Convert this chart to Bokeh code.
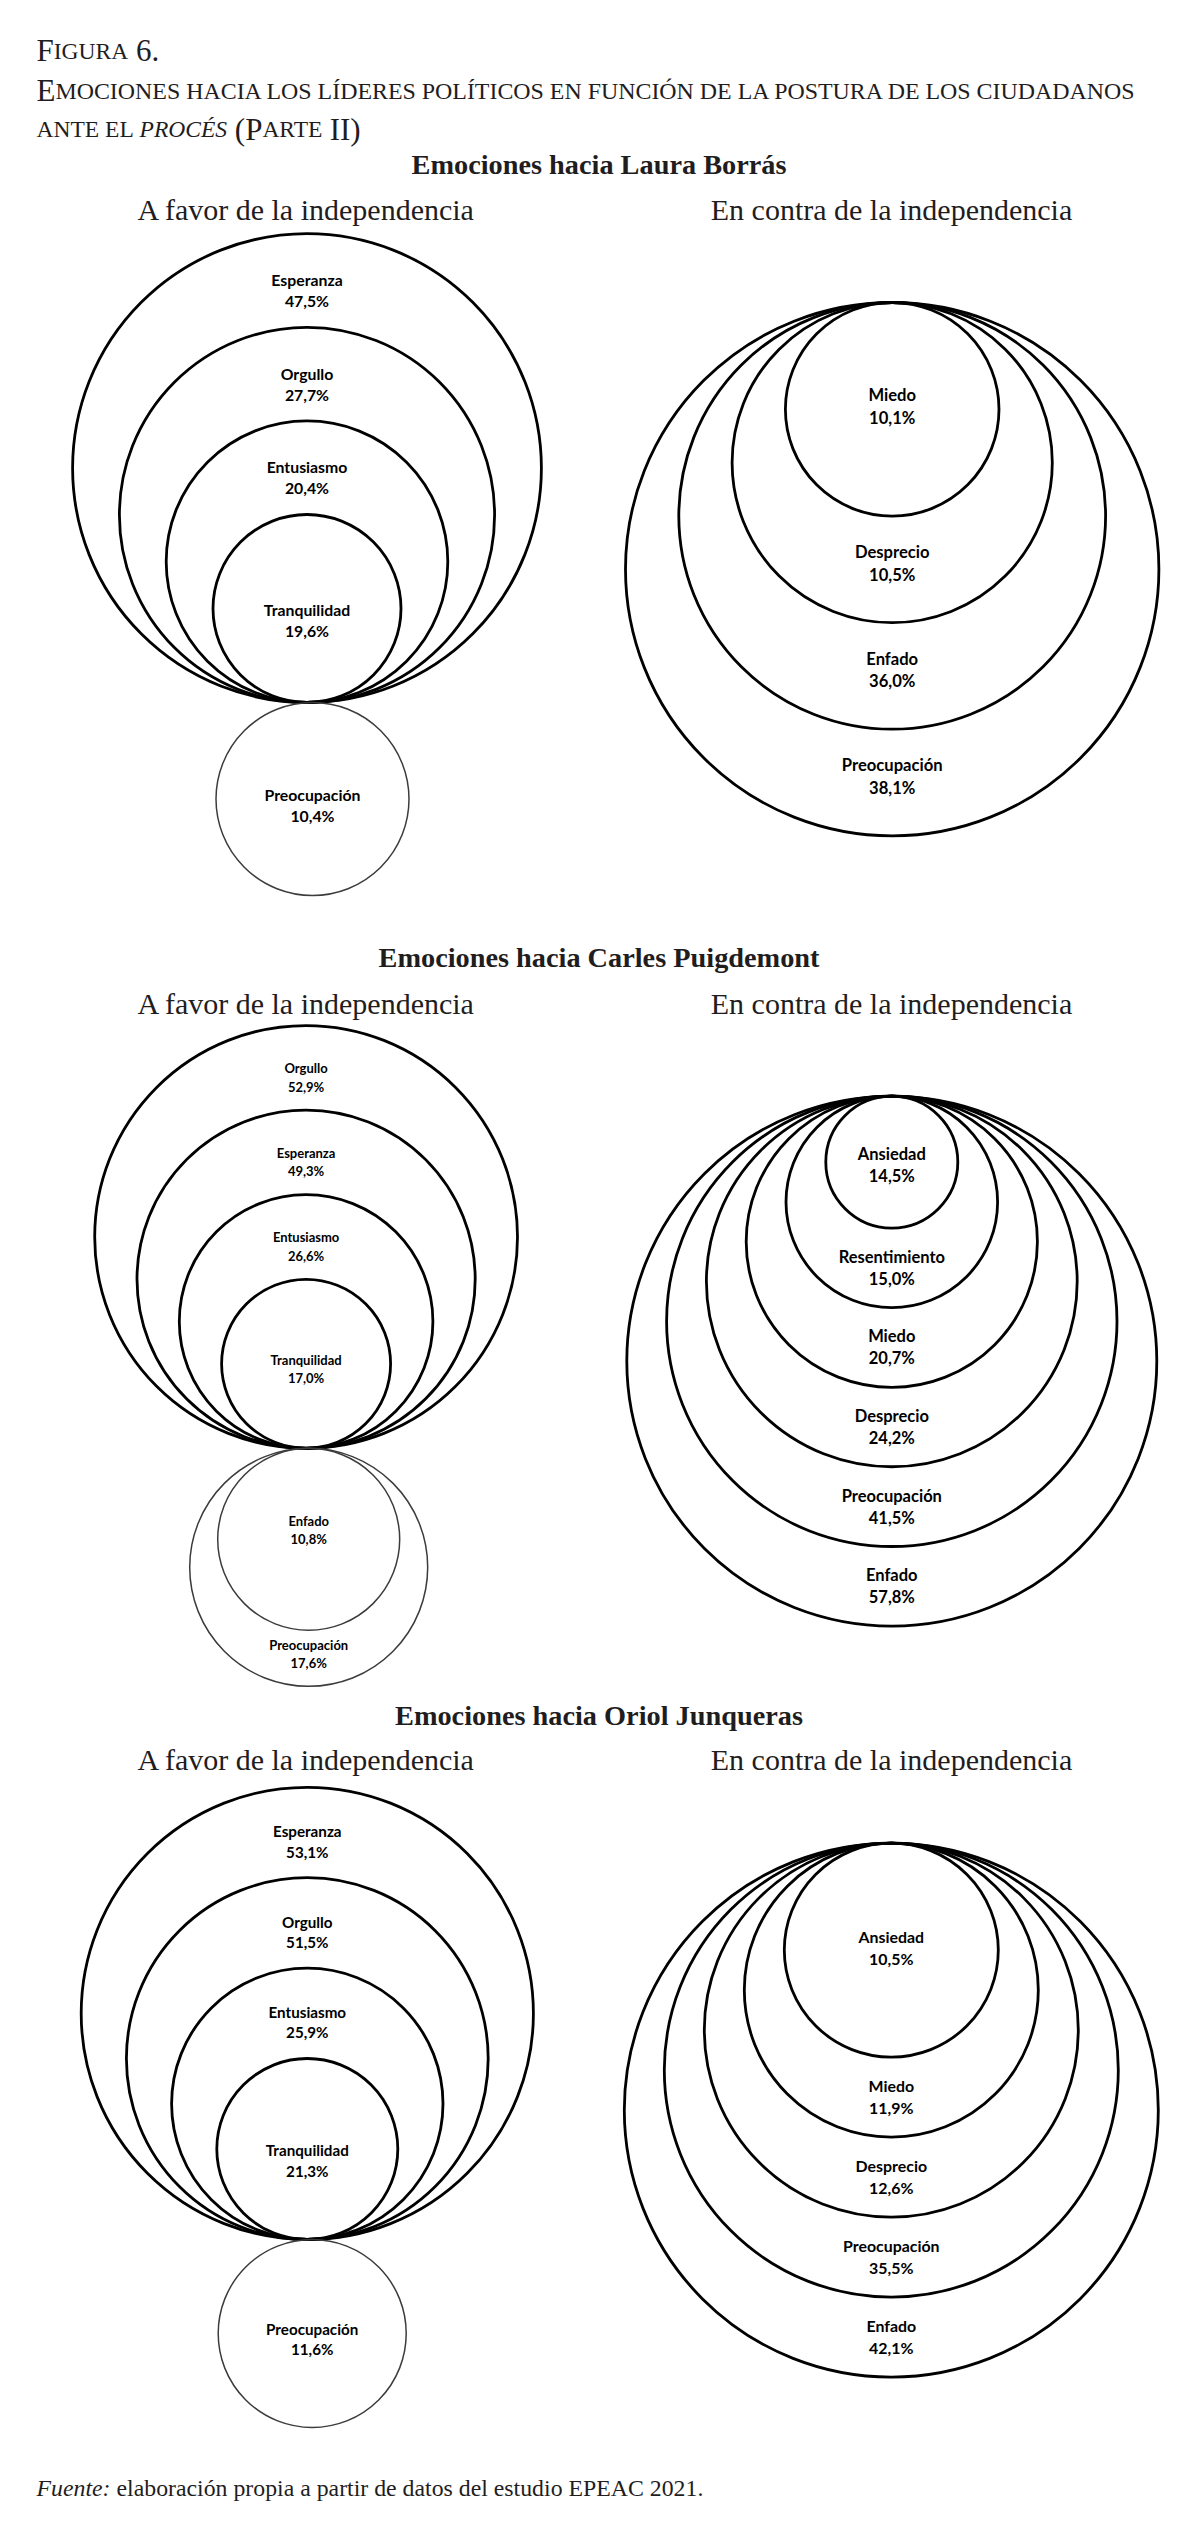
from bokeh.plotting import figure
from bokeh.models import Range1d, ColumnDataSource
from bokeh.core.properties import value
from bokeh.embed import file_html
from bokeh.resources import INLINE

# ---------------- data ----------------
borras_favor_emotions = ["Esperanza", "Orgullo", "Entusiasmo", "Tranquilidad"]
borras_favor_values = [47.5, 27.7, 20.4, 19.6]
borras_favor_below_emotions = ["Preocupación"]
borras_favor_below_values = [10.4]

borras_contra_emotions = ["Miedo", "Desprecio", "Enfado", "Preocupación"]
borras_contra_values = [10.1, 10.5, 36.0, 38.1]

puig_favor_emotions = ["Orgullo", "Esperanza", "Entusiasmo", "Tranquilidad"]
puig_favor_values = [52.9, 49.3, 26.6, 17.0]
puig_favor_below_emotions = ["Enfado", "Preocupación"]
puig_favor_below_values = [10.8, 17.6]

puig_contra_emotions = ["Ansiedad", "Resentimiento", "Miedo", "Desprecio", "Preocupación", "Enfado"]
puig_contra_values = [14.5, 15.0, 20.7, 24.2, 41.5, 57.8]

junq_favor_emotions = ["Esperanza", "Orgullo", "Entusiasmo", "Tranquilidad"]
junq_favor_values = [53.1, 51.5, 25.9, 21.3]
junq_favor_below_emotions = ["Preocupación"]
junq_favor_below_values = [11.6]

junq_contra_emotions = ["Ansiedad", "Miedo", "Desprecio", "Preocupación", "Enfado"]
junq_contra_values = [10.5, 11.9, 12.6, 35.5, 42.1]

leaders = ["Laura Borrás", "Carles Puigdemont", "Oriol Junqueras"]
side_titles = ["A favor de la independencia", "En contra de la independencia"]

# ---------------- layout ----------------
W, H = 1180, 2515
p = figure(width=W, height=H, x_range=Range1d(0, W), y_range=Range1d(H + 8, 8),
           output_backend="svg", toolbar_location=None, min_border=0,
           x_axis_type=None, y_axis_type=None)
p.grid.visible = False
p.outline_line_color = None
p.background_fill_color = "white"
p.border_fill_color = "white"

SERIF = value("Liberation Serif")
SANS = value("Lato")
INK = "#1f1d1e"


def fmt(v):
    return ("%.1f" % v).replace(".", ",") + "%"


panels = [
    dict(kind="favor", em=borras_favor_emotions, vals=borras_favor_values,
         bem=borras_favor_below_emotions, bvals=borras_favor_below_values,
         cx=306.5, anchor=710, r_in=94, step=46.8, bcx=312, br=[96.5], boff=[0],
         font=15.8, gap=21, off=4, off_in=6),
    dict(kind="contra", em=borras_contra_emotions, vals=borras_contra_values,
         cx=891.7, anchor=310, r_in=106.8, step=53.3,
         font=16.6, gap=22.6, off=-12, off_in=-8.6),
    dict(kind="favor", em=puig_favor_emotions, vals=puig_favor_values,
         bem=puig_favor_below_emotions, bvals=puig_favor_below_values,
         cx=305.6, anchor=1455.8, r_in=84.5, step=42.3, bcx=308.2, br=[91, 119], boff=[-14, -9],
         font=13.0, gap=18.4, off=5, off_in=0.7),
    dict(kind="contra", em=puig_contra_emotions, vals=puig_contra_values,
         cx=891.3, anchor=1103.6, r_in=66, step=39.8,
         font=16.5, gap=22, off=-6, off_in=-2.6),
    dict(kind="favor", em=junq_favor_emotions, vals=junq_favor_values,
         bem=junq_favor_below_emotions, bvals=junq_favor_below_values,
         cx=306.8, anchor=2247, r_in=90.5, step=45.2, bcx=311.7, br=[94], boff=[0],
         font=15.2, gap=20.4, off=3.5, off_in=6),
    dict(kind="contra", em=junq_contra_emotions, vals=junq_contra_values,
         cx=890.8, anchor=1850.6, r_in=107, step=40,
         font=15.9, gap=21.7, off=-6.5, off_in=-8),
]


def add_labels(xs, centers, names, vals, font, gap):
    g = gap / 2
    lift = 0.36 * font  # half cap-height: from visual centre to baseline
    src = ColumnDataSource(dict(x=xs, yn=[c - g + lift for c in centers],
                                yv=[c + g + lift for c in centers],
                                name=names, val=[fmt(v) for v in vals]))
    for col, txt in (("yn", "name"), ("yv", "val")):
        p.text(x="x", y=col, text=txt, source=src, text_align="center",
               text_baseline="alphabetic", text_font=SANS, text_font_style="bold",
               text_font_size="%.1fpx" % font, text_color="black")


for pn in panels:
    n = len(pn["em"])
    cx, a = pn["cx"], pn["anchor"]
    xs, ys, rs, ly = [], [], [], []
    if pn["kind"] == "favor":
        radii = [pn["r_in"] + pn["step"] * (n - 1 - i) for i in range(n)]
        tops = [a - 2 * r for r in radii]
        for i, r in enumerate(radii):
            xs.append(cx); ys.append(a - r); rs.append(r)
            if i < n - 1:
                ly.append((tops[i] + tops[i + 1]) / 2 + pn["off"])
            else:
                ly.append(a - r + pn["off_in"])
    else:
        radii = [pn["r_in"] + pn["step"] * i for i in range(n)]
        bots = [a + 2 * r for r in radii]
        for i, r in enumerate(radii):
            xs.append(cx); ys.append(a + r); rs.append(r)
            if i == 0:
                ly.append(a + r + pn["off_in"])
            else:
                ly.append((bots[i - 1] + bots[i]) / 2 + pn["off"])
    src = ColumnDataSource(dict(x=xs, y=ys, r=rs))
    p.circle(x="x", y="y", radius="r", source=src, fill_color=None,
             line_color="black", line_width=2.8)
    add_labels(xs, ly, pn["em"], pn["vals"], pn["font"], pn["gap"])

    if pn["kind"] == "favor":
        bx, by, brs, bly = [], [], [], []
        for j, r in enumerate(pn["br"]):
            bx.append(pn["bcx"]); by.append(a + r); brs.append(r)
            if j == 0:
                bly.append(a + r + pn["boff"][j])
            else:
                bly.append((a + 2 * pn["br"][j - 1] + a + 2 * r) / 2 + pn["boff"][j])
        bsrc = ColumnDataSource(dict(x=bx, y=by, r=brs))
        p.circle(x="x", y="y", radius="r", source=bsrc, fill_color=None,
                 line_color="#3c3c3c", line_width=1.5)
        add_labels(bx, bly, pn["bem"], pn["bvals"], pn["font"], pn["gap"])

# ---------------- headers ----------------
header_base = [171.7, 965, 1722.5]
sub_base = [217, 1010.5, 1766.5]
for name, hb, sb in zip(leaders, header_base, sub_base):
    p.text(x=[598.5], y=[hb], text=["Emociones hacia " + name], text_align="center",
           text_baseline="alphabetic", text_font=SERIF, text_font_style="bold",
           text_font_size="28.3px", text_color=INK)
    p.text(x=[306, 891], y=[sb, sb], text=side_titles, text_align="center",
           text_baseline="alphabetic", text_font=SERIF, text_font_size="30px",
           text_color=INK)

# ---------------- figure title (small caps emulation) ----------------
CW = {"A": .722, "B": .667, "C": .667, "D": .722, "E": .611, "F": .556, "G": .722,
      "H": .722, "I": .333, "L": .611, "M": .889, "N": .722, "O": .722, "P": .556,
      "R": .667, "S": .556, "T": .611, "U": .722, "Í": .333, "Ó": .722, "É": .611,
      " ": .25, "(": .333, ")": .333, ".": .25, "6": .5}
CWI = {"P": .611, "R": .611, "O": .722, "C": .667, "É": .611, "S": .5}

BIG, SMALL = 31, 23.5
title_lines = [
    (58.3, [("F", BIG, "normal"), ("IGURA", SMALL, "normal"), (" 6.", BIG, "normal")]),
    (98.3, [("E", BIG, "normal"),
            ("MOCIONES HACIA LOS LÍDERES POLÍTICOS EN FUNCIÓN DE LA POSTURA DE LOS CIUDADANOS",
             SMALL * 1.015, "normal")]),
    (136.7, [("ANTE EL ", SMALL, "normal"), ("PROCÉS", SMALL, "italic"), (" (P", BIG, "normal"),
             ("ARTE ", SMALL, "normal"), ("II)", BIG, "normal")]),
]
for base, segs in title_lines:
    x = 36.0
    for s, size, style in segs:
        table = CWI if style == "italic" else CW
        lead = len(s) - len(s.lstrip(" "))
        trail = len(s) - len(s.rstrip(" "))
        x += lead * CW[" "] * size
        core = s.strip(" ")
        p.text(x=[x], y=[base], text=[core], text_align="left", text_baseline="alphabetic",
               text_font=SERIF, text_font_style=style, text_font_size="%.1fpx" % size,
               text_color=INK)
        x += sum(table.get(c, CW.get(c, .6)) for c in core) * size
        x += trail * CW[" "] * size

# ---------------- source note ----------------
p.text(x=[36], y=[2495], text=["Fuente:"], text_align="left", text_baseline="alphabetic",
       text_font=SERIF, text_font_style="italic", text_font_size="23.8px", text_color=INK)
p.text(x=[116], y=[2495], text=["elaboración propia a partir de datos del estudio EPEAC 2021."],
       text_align="left", text_baseline="alphabetic", text_font=SERIF,
       text_font_size="23.8px", text_color=INK)

open("out.html", "w").write(file_html(p, INLINE))
